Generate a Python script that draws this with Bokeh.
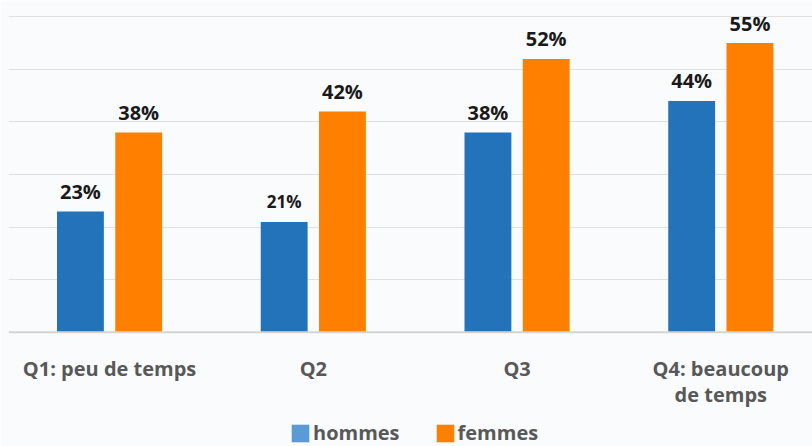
from bokeh.plotting import figure
from bokeh.models import (ColumnDataSource, Range1d, FixedTicker, Grid, Legend, LegendItem, Span)
from bokeh.core.properties import value
from bokeh.embed import file_html
from bokeh.resources import INLINE

categories = ["Q1: peu de temps", "Q2", "Q3", "Q4: beaucoup\nde temps"]
hommes = [23, 21, 38, 44]
femmes = [38, 42, 52, 55]
series_names = ["hommes", "femmes"]
grid_values = [10, 20, 30, 40, 50, 60]

BLUE = "#2273b9"
BLUE_LEGEND = "#5b9bd5"
ORANGE = "#ff7f00"
BG = "#f9fbfd"
FONT = "Open Sans"

xpos = [i + 0.5 for i in range(len(categories))]
off = 0.143
bw = 0.23

src_h = ColumnDataSource(dict(
    x=[x - off for x in xpos], top=hommes,
    label=[f"{v}%" for v in hommes],
    fsize=["20px" if v != 21 else "17px" for v in hommes],
))
src_f = ColumnDataSource(dict(
    x=[x + off for x in xpos], top=femmes,
    label=[f"{v}%" for v in femmes],
    fsize=["20px" for v in femmes],
))
src_c = ColumnDataSource(dict(x=xpos, y=[0] * len(xpos), label=categories))

p = figure(width=812, height=446, output_backend="svg", toolbar_location=None,
           x_range=Range1d(0.004, 3.95), y_range=Range1d(-21.7, 63.1),
           x_axis_location=None, y_axis_location=None,
           background_fill_color=BG, border_fill_color=BG,
           min_border_left=8, min_border_right=0, min_border_top=0, min_border_bottom=0)
p.outline_line_color = None
p.xgrid.visible = False
p.ygrid.visible = False
p.add_layout(Grid(dimension=1, ticker=FixedTicker(ticks=grid_values),
                  grid_line_color="#e0e0e0", grid_line_width=1))
p.add_layout(Span(location=0, dimension="width", line_color="#d4d4d4", line_width=2))

p.vbar(x="x", top="top", width=bw, source=src_h, color=BLUE, line_color=None)
p.vbar(x="x", top="top", width=bw, source=src_f, color=ORANGE, line_color=None)

for src in (src_h, src_f):
    p.text(x="x", y="top", text="label", source=src, text_align="center",
           text_baseline="alphabetic", y_offset=-20, text_font=value(FONT),
           text_font_style="bold", text_font_size="fsize", text_color="#1a1a1a")

# category labels
p.text(x="x", y="y", text="label", source=src_c, text_align="center",
       text_baseline="top", y_offset=23, text_line_height=0.96,
       text_font=value(FONT), text_font_style="bold", text_font_size="20px",
       text_color="#585858")

# legend proxies (zero-height bars outside the visible range)
rh = p.vbar(x=[-5], top=[0], bottom=[0], width=0.1, color=BLUE_LEGEND, line_color=None)
rf = p.vbar(x=[-5], top=[0], bottom=[0], width=0.1, color=ORANGE, line_color=None)
legend = Legend(items=[LegendItem(label=series_names[0], renderers=[rh]),
                       LegendItem(label=series_names[1], renderers=[rf])],
                orientation="horizontal", location=(281, 0),
                glyph_width=22, glyph_height=22, label_standoff=2, spacing=34,
                padding=0, margin=0, border_line_color=None,
                background_fill_alpha=0, label_text_font=FONT,
                label_text_font_style="bold", label_text_font_size="20px",
                label_text_color="#585858", label_height=22)
p.add_layout(legend, "center")

open("out.html", "w").write(file_html(p, INLINE))
